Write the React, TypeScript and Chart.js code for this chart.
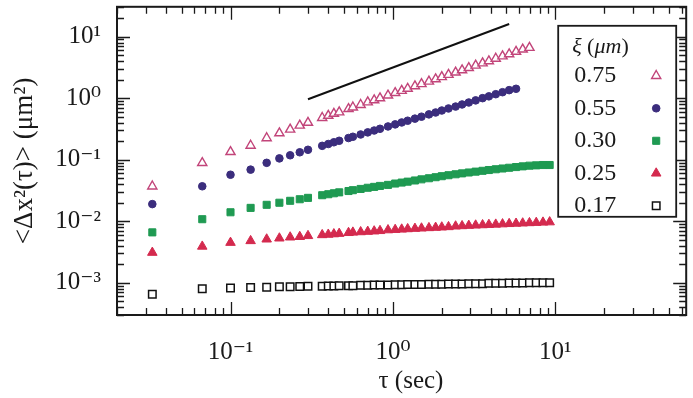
import React, { useEffect, useRef } from 'react';
import { Chart, registerables } from 'chart.js';

Chart.register(...registerables);

const SERIF = '"Liberation Serif", "DejaVu Serif", "Times New Roman", serif';

// lag times (s)
const tau = [0.033, 0.067, 0.1, 0.133, 0.167, 0.2, 0.233, 0.267, 0.3, 0.367, 0.4, 0.433, 0.467, 0.533, 0.567, 0.633, 0.7, 0.767, 0.833, 0.933, 1.033, 1.133, 1.233, 1.367, 1.5, 1.667, 1.833, 2.0, 2.2, 2.433, 2.667, 2.933, 3.233, 3.567, 3.9, 4.3, 4.733, 5.2, 5.733, 6.3, 6.933, 7.633, 8.4, 9.233];

// MSD (um^2) per xi
const msd075 = [0.037, 0.089, 0.134, 0.17, 0.225, 0.27, 0.31, 0.36, 0.40, 0.48, 0.52, 0.56, 0.59, 0.67, 0.71, 0.78, 0.86, 0.93, 1.0, 1.11, 1.22, 1.32, 1.43, 1.57, 1.70, 1.87, 2.04, 2.21, 2.40, 2.62, 2.85, 3.1, 3.4, 3.7, 4.0, 4.4, 4.8, 5.2, 5.7, 6.2, 6.6];
const msd055 = [0.019, 0.037, 0.057, 0.069, 0.089, 0.105, 0.118, 0.132, 0.145, 0.168, 0.180, 0.192, 0.203, 0.225, 0.236, 0.257, 0.278, 0.298, 0.318, 0.347, 0.375, 0.403, 0.43, 0.465, 0.50, 0.545, 0.585, 0.63, 0.68, 0.73, 0.79, 0.85, 0.92, 1.0, 1.07, 1.16, 1.25, 1.35, 1.42];
const msd030 = [0.0066, 0.0108, 0.014, 0.0165, 0.0185, 0.020, 0.0215, 0.0228, 0.024, 0.0265, 0.0275, 0.0285, 0.0295, 0.031, 0.032, 0.0335, 0.035, 0.0362, 0.0375, 0.039, 0.041, 0.0425, 0.044, 0.046, 0.048, 0.050, 0.052, 0.054, 0.056, 0.058, 0.060, 0.062, 0.064, 0.066, 0.068, 0.070, 0.072, 0.074, 0.076, 0.078, 0.080, 0.081, 0.082, 0.082];
const msd025 = [0.0031, 0.0039, 0.0045, 0.0048, 0.0051, 0.0053, 0.0055, 0.0056, 0.0058, 0.0060, 0.0061, 0.0062, 0.0063, 0.0065, 0.0066, 0.0067, 0.0068, 0.0069, 0.0070, 0.0072, 0.0073, 0.0074, 0.0075, 0.0076, 0.0077, 0.0078, 0.0079, 0.0080, 0.0081, 0.0083, 0.0084, 0.0085, 0.0086, 0.0087, 0.0088, 0.0089, 0.0090, 0.0091, 0.0092, 0.0093, 0.0094, 0.0095, 0.0096, 0.0097];
const msd017 = [0.00065, 0.00080, 0.00082, 0.00084, 0.00085, 0.00086, 0.00086, 0.00087, 0.00088, 0.00088, 0.00089, 0.00089, 0.00090, 0.00090, 0.00090, 0.00091, 0.00091, 0.00092, 0.00092, 0.00092, 0.00093, 0.00093, 0.00094, 0.00094, 0.00094, 0.00095, 0.00095, 0.00095, 0.00096, 0.00096, 0.00096, 0.00097, 0.00097, 0.00097, 0.00098, 0.00098, 0.00098, 0.00099, 0.00099, 0.00099, 0.00100, 0.00100, 0.00100, 0.00100];

// slope-1 guide line
const guideX = [0.3, 5.2];
const guideY = [0.96, 16];

const legendTitle = ['ξ', ' (', 'μm', ')'];
const legendLabels = ['0.75', '0.55', '0.30', '0.25', '0.17'];

const xTickValues = [0.1, 1, 10];
const xTickLabels = ['10⁻¹', '10⁰', '10¹'];
const yTickValues = [0.001, 0.01, 0.1, 1, 10];
const yTickLabels = ['10⁻³', '10⁻²', '10⁻¹', '10⁰', '10¹'];

const X_MIN = 0.02;
const X_MAX = 64;
const Y_MIN = 0.0003;
const Y_MAX = 30.5;

function pts(xs: number[], ys: number[]) {
  return ys.map((y, i) => ({ x: xs[i], y }));
}

function labelFor(values: number[], labels: string[], v: number) {
  const i = values.findIndex((t) => Math.abs(Math.log10(t) - Math.log10(v)) < 1e-6);
  return i >= 0 ? labels[i] : null;
}

function drawMarker(ctx: CanvasRenderingContext2D, style: string, x: number, y: number, r: number, fill: string, stroke: string, lw: number) {
  ctx.save();
  ctx.beginPath();
  if (style === 'triangle') {
    for (let k = 0; k < 3; k++) {
      const a = (k * 2 * Math.PI) / 3;
      const px = x + Math.sin(a) * r;
      const py = y - Math.cos(a) * r;
      if (k === 0) ctx.moveTo(px, py);
      else ctx.lineTo(px, py);
    }
    ctx.closePath();
  } else if (style === 'circle') {
    ctx.arc(x, y, r, 0, Math.PI * 2);
  } else {
    const s = Math.SQRT1_2 * r;
    ctx.rect(x - s, y - s, 2 * s, 2 * s);
  }
  ctx.fillStyle = fill;
  ctx.fill();
  ctx.lineWidth = lw;
  ctx.strokeStyle = stroke;
  ctx.stroke();
  ctx.restore();
}

function logTicks(min: number, max: number) {
  const out: { v: number; major: boolean }[] = [];
  for (let d = Math.floor(Math.log10(min)); d <= Math.ceil(Math.log10(max)); d++) {
    for (let m = 1; m <= 9; m++) {
      const v = m * Math.pow(10, d);
      if (v >= min && v <= max) out.push({ v, major: m === 1 });
    }
  }
  return out;
}

const frameTicksPlugin = {
  id: 'frameTicks',
  afterDatasetsDraw(chart: any) {
    const { ctx, chartArea: a, scales } = chart;
    const xs = scales.x;
    const ys = scales.y;
    ctx.save();
    ctx.strokeStyle = '#1a1a1a';
    ctx.lineWidth = 1.3;
    ctx.beginPath();
    for (const t of logTicks(X_MIN, X_MAX)) {
      const px = Math.round(xs.getPixelForValue(t.v)) + 0.5;
      const len = t.major ? 13 : 7;
      ctx.moveTo(px, a.bottom);
      ctx.lineTo(px, a.bottom - len);
      ctx.moveTo(px, a.top);
      ctx.lineTo(px, a.top + len);
    }
    for (const t of logTicks(Y_MIN, Y_MAX)) {
      const py = Math.round(ys.getPixelForValue(t.v)) + 0.5;
      const len = t.major ? 13 : 7;
      ctx.moveTo(a.left, py);
      ctx.lineTo(a.left + len, py);
      ctx.moveTo(a.right, py);
      ctx.lineTo(a.right - len, py);
    }
    ctx.stroke();
    ctx.lineWidth = 2;
    ctx.strokeRect(a.left, a.top, a.right - a.left, a.bottom - a.top);
    ctx.restore();
  },
};

const legendPlugin = {
  id: 'boxLegend',
  afterDraw(chart: any) {
    const { ctx, chartArea: a } = chart;
    const left = a.right - 128;
    const top = a.top + 19;
    const w = 118;
    const h = 191;
    ctx.save();
    ctx.fillStyle = '#ffffff';
    ctx.fillRect(left, top, w, h);
    ctx.lineWidth = 1.8;
    ctx.strokeStyle = '#1a1a1a';
    ctx.strokeRect(left, top, w, h);

    ctx.fillStyle = '#1a1a1a';
    ctx.textBaseline = 'middle';
    ctx.textAlign = 'left';
    let tx = left + 14;
    const ty = top + 21;
    legendTitle.forEach((part, i) => {
      ctx.font = (i % 2 === 0 ? 'italic ' : '') + '22px ' + SERIF;
      ctx.fillText(part, tx, ty);
      tx += ctx.measureText(part).width;
    });

    ctx.font = '24px ' + SERIF;
    const ds = chart.data.datasets.filter((d: any) => d.label !== 'guide');
    legendLabels.forEach((lab, i) => {
      const cy = top + 50 + i * 32.5;
      ctx.fillStyle = '#1a1a1a';
      ctx.fillText(lab, left + 16, cy);
      const d = ds[i];
      if (d) {
        drawMarker(ctx, d.pointStyle, left + 98, cy, d.pointRadius, d.backgroundColor, d.borderColor, d.borderWidth);
      }
    });
    ctx.restore();
  },
};

export default function App() {
  const ref = useRef<HTMLCanvasElement | null>(null);

  useEffect(() => {
    if (!ref.current) return;
    const chart = new Chart(ref.current, {
      type: 'scatter',
      data: {
        datasets: [
          {
            label: 'guide',
            type: 'line',
            data: pts(guideX, guideY),
            showLine: true,
            borderColor: '#111111',
            borderWidth: 2,
            pointRadius: 0,
            fill: false,
          } as any,
          {
            label: '0.75',
            data: pts(tau, msd075),
            pointStyle: 'triangle',
            pointRadius: 5.3,
            backgroundColor: '#ffffff',
            borderColor: '#c2457a',
            borderWidth: 1.4,
          },
          {
            label: '0.55',
            data: pts(tau, msd055),
            pointStyle: 'circle',
            pointRadius: 3.8,
            backgroundColor: '#3b2d7d',
            borderColor: '#3b2d7d',
            borderWidth: 1,
          },
          {
            label: '0.30',
            data: pts(tau, msd030),
            pointStyle: 'rect',
            pointRadius: 5,
            backgroundColor: '#1f9a52',
            borderColor: '#1f9a52',
            borderWidth: 1,
          },
          {
            label: '0.25',
            data: pts(tau, msd025),
            pointStyle: 'triangle',
            pointRadius: 5.5,
            backgroundColor: '#d42a4e',
            borderColor: '#d42a4e',
            borderWidth: 1,
          },
          {
            label: '0.17',
            data: pts(tau, msd017),
            pointStyle: 'rect',
            pointRadius: 5.3,
            backgroundColor: '#ffffff',
            borderColor: '#111111',
            borderWidth: 1.5,
          },
        ],
      },
      options: {
        responsive: false,
        animation: false,
        devicePixelRatio: 1,
        layout: { padding: { top: 5, right: 3, left: 0, bottom: 0 } },
        plugins: {
          legend: { display: false },
          tooltip: { enabled: false },
          title: { display: false },
        },
        scales: {
          x: {
            type: 'logarithmic',
            position: 'bottom',
            min: X_MIN,
            max: X_MAX,
            grid: { display: false, drawTicks: false },
            border: { display: false },
            ticks: {
              autoSkip: false,
              maxRotation: 0,
              padding: 22,
              color: '#1a1a1a',
              font: { family: SERIF, size: 25 },
              callback: (v: any) => labelFor(xTickValues, xTickLabels, Number(v)),
            },
            title: {
              display: true,
              text: '   τ (sec)',
              color: '#1a1a1a',
              font: { family: SERIF, size: 25 },
              padding: { top: 0, bottom: 2 },
            },
            afterFit: (s: any) => {
              s.height = 83;
              s.paddingLeft = 0;
              s.paddingRight = 0;
            },
          },
          y: {
            type: 'logarithmic',
            position: 'left',
            min: Y_MIN,
            max: Y_MAX,
            grid: { display: false, drawTicks: false },
            border: { display: false },
            ticks: {
              autoSkip: false,
              padding: 16,
              color: '#1a1a1a',
              font: { family: SERIF, size: 25 },
              callback: (v: any) => labelFor(yTickValues, yTickLabels, Number(v)),
            },
            title: {
              display: true,
              text: '<Δx²(τ)> (μm²)',
              color: '#1a1a1a',
              font: { family: SERIF, size: 27 },
              padding: { top: 9, bottom: 0 },
            },
            afterFit: (s: any) => {
              s.width = 117;
              s.paddingTop = 0;
              s.paddingBottom = 0;
            },
          },
        },
      },
      plugins: [frameTicksPlugin, legendPlugin],
    } as any);
    return () => chart.destroy();
  }, []);

  return (
    <div style={{ position: 'fixed', left: 0, top: 0, width: 693, height: 398, background: '#ffffff' }}>
      <canvas ref={ref} width={693} height={398} style={{ display: 'block', width: 693, height: 398 }} />
    </div>
  );
}
